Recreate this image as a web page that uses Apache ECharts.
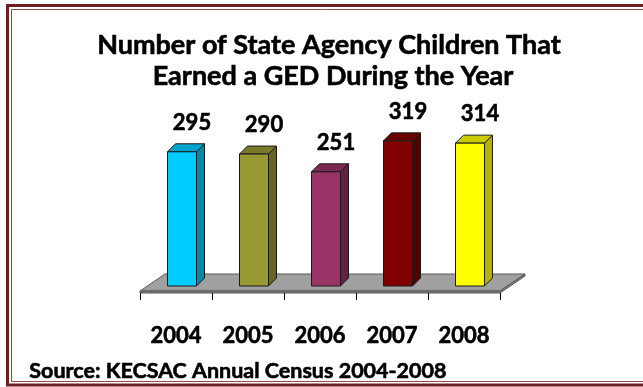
<!DOCTYPE html>
<html>
<head>
<meta charset="utf-8">
<script src="https://cdn.jsdelivr.net/npm/echarts@6/dist/echarts.min.js"></script>
<style>
  html, body { margin: 0; padding: 0; background: #ffffff; }
  #chart { width: 643px; height: 387px; }
</style>
</head>
<body>
<div id="chart"></div>
<script>
// Graduates per year
const years = ['2004', '2005', '2006', '2007', '2008'];
const gedCounts = [295, 290, 251, 319, 314];

// Face colours per bar: front, side, top
const frontColors = ['#00ccff', '#999933', '#993366', '#800000', '#ffff00'];
const sideColors  = ['#0088aa', '#666622', '#622142', '#520000', '#b3b300'];
const topColors   = ['#00a3cc', '#7a7a29', '#7a2952', '#660000', '#cccc00'];

const titleLines = ['Number of State Agency Children That', 'Earned a GED During the Year'];
const sourceNote = 'Source: KECSAC Annual Census 2004-2008';

const FONT = 'Lato, "Open Sans", sans-serif';
const INK = { fill: '#000', stroke: '#000', lineWidth: 0.6 };  // heavier bold text
const DEPTH = 8;       // 3D extrusion of each bar
const BAR_W = 29;      // front face width
const BAR_SHIFT = 6;   // bars sit slightly back on the floor

const chart = echarts.init(document.getElementById('chart'), null, { renderer: 'canvas' });

function renderBar(params, api) {
  const i = api.value(0);
  const v = api.value(1);
  const base = api.coord([i, 0]);
  const top = api.coord([i, v]);
  const cx = base[0] + BAR_SHIFT;
  const xl = cx - BAR_W / 2, xr = cx + BAR_W / 2;
  const yb = base[1], yt = top[1];
  const edge = { stroke: '#1a1a1a', lineWidth: 1, lineJoin: 'round' };
  return {
    type: 'group',
    children: [
      { type: 'polygon', shape: { points: [[xr, yt], [xr + DEPTH, yt - DEPTH], [xr + DEPTH, yb - DEPTH], [xr, yb]] },
        style: Object.assign({ fill: sideColors[i] }, edge) },
      { type: 'polygon', shape: { points: [[xl, yt], [xl + DEPTH, yt - DEPTH], [xr + DEPTH, yt - DEPTH], [xr, yt]] },
        style: Object.assign({ fill: topColors[i] }, edge) },
      { type: 'rect', shape: { x: xl, y: yt, width: BAR_W, height: yb - yt },
        style: Object.assign({ fill: frontColors[i] }, edge) },
      { type: 'text', x: cx + 10, y: yt - DEPTH - 10,
        style: Object.assign({ text: String(v), font: 'bold 22px ' + FONT, align: 'center', verticalAlign: 'bottom' }, INK) }
    ]
  };
}

function renderFloor(params, api) {
  const band = api.size([1, 0])[0];
  const first = api.coord([0, 0]);
  const last = api.coord([years.length - 1, 0]);
  const x0 = first[0] - band / 2, x1 = last[0] + band / 2;
  const yf = first[1] + 5, yk = first[1] - 12, dx = 25;
  const children = [
    { type: 'polygon', shape: { points: [[x0, yf], [x0 + dx, yk], [x1 + dx, yk], [x1, yf]] },
      style: { fill: '#a0a0a0', stroke: '#595959', lineWidth: 1 } },
    { type: 'polygon', shape: { points: [[x0, yf], [x1, yf], [x1 + dx, yk], [x1 + dx, yk + 2], [x1, yf + 2], [x0, yf + 2]] },
      style: { fill: '#7f7f7f', stroke: '#595959', lineWidth: 1 } }
  ];
  // category boundary ticks under the floor edge
  for (let k = 0; k <= years.length; k++) {
    const x = Math.round(x0 + k * band) + 0.5;
    children.push({ type: 'line', shape: { x1: x, y1: yf + 2, x2: x, y2: yf + 9 },
      style: { stroke: '#000', lineWidth: 1 } });
  }
  return { type: 'group', children };
}

chart.setOption({
  backgroundColor: '#ffffff',
  animation: false,
  grid: { left: 140, right: 143, top: 104, bottom: 101 },
  xAxis: {
    type: 'category',
    data: years,
    axisLine: { show: false },
    axisTick: { show: false },
    axisLabel: { margin: 39, color: '#000', fontSize: 22, fontWeight: 'bold', fontFamily: FONT,
                 textBorderColor: '#000', textBorderWidth: 0.6 }
  },
  yAxis: { type: 'value', min: 0, max: 400, show: false, splitLine: { show: false } },
  series: [
    { type: 'custom', renderItem: renderFloor, data: [[0, 0]], z: 1, silent: true },
    { type: 'custom', renderItem: renderBar, data: years.map((y, i) => [i, gedCounts[i]]), z: 2, silent: true }
  ],
  graphic: [
    { type: 'text', x: 329, y: 32, style: Object.assign({ text: titleLines[0], font: 'bold 27px ' + FONT, align: 'center' }, INK) },
    { type: 'text', x: 333, y: 63, style: Object.assign({ text: titleLines[1], font: 'bold 27px ' + FONT, align: 'center' }, INK) },
    { type: 'text', left: 29, top: 360, style: Object.assign({ text: sourceNote, font: 'bold 21.5px ' + FONT }, INK) },
    // double frame
    { type: 'rect', silent: true, shape: { x: 7.5, y: 5.5, width: 700, height: 379.5 },
      style: { fill: 'none', stroke: '#6b1f1f', lineWidth: 3 } },
    { type: 'rect', silent: true, shape: { x: 11.5, y: 9.5, width: 700, height: 372 },
      style: { fill: 'none', stroke: '#8c4a4a', lineWidth: 1 } }
  ]
});
</script>
</body>
</html>
